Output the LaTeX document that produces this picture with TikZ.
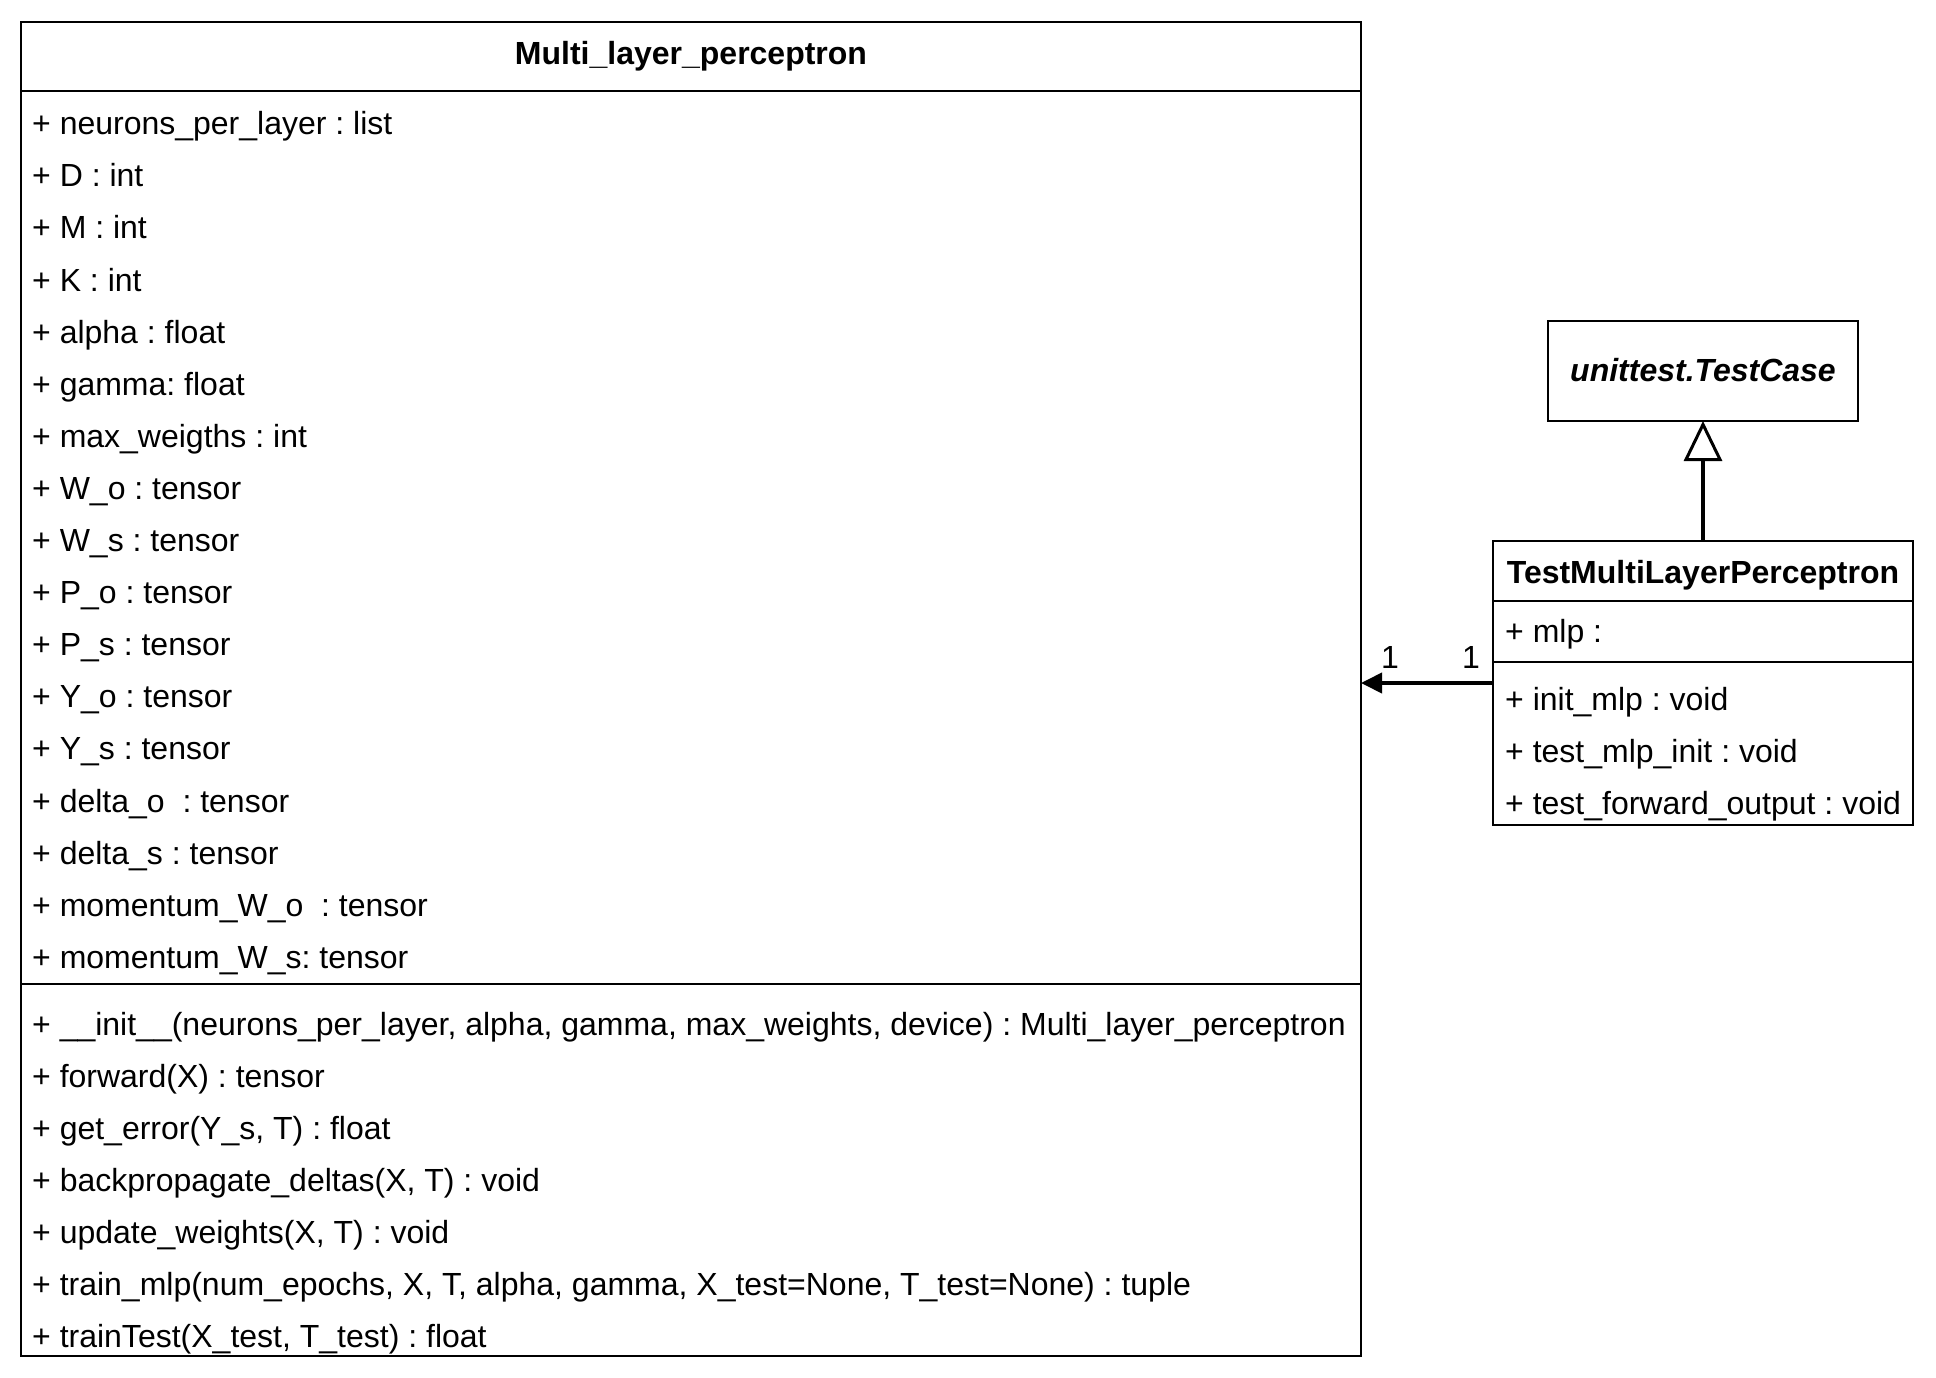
\documentclass[tikz,border=0pt]{standalone}
\usepackage{fontspec}
\setmainfont{Liberation Sans}
\usetikzlibrary{arrows.meta}
\frenchspacing

\begin{document}
\begin{tikzpicture}[x=1pt, y=-1pt,
    font=\fontsize{32}{38}\selectfont,
    classbox/.style={draw, line width=2pt, inner sep=0pt, outer sep=0pt, anchor=north west},
    member/.style={anchor=base west, inner sep=0pt},
    classname/.style={anchor=base, inner sep=0pt, font=\fontsize{32}{38}\selectfont\bfseries},
    mult/.style={anchor=base, inner sep=0pt, yshift=15pt},
    assoc/.style={line width=4pt, -{Triangle[length=21pt, width=20pt]}},
    inherit/.style={line width=4pt, -{Triangle[open, length=40pt, width=38pt, line width=3pt, fill=white]}}]
      \useasboundingbox[fill=white] (0,0) rectangle (1936,1378);

      % Multi_layer_perceptron
      \node[classbox, minimum width=1340pt, minimum height=1333.5pt] (mlp) at (21,22) {};
      \node[classname] (mlpname) at (691,65) {Multi\_layer\_perceptron};
      \draw[line width=2pt] (mlp.west |- 0,91.5) -- (mlp.east |- 0,91.5);
      \draw[line width=2pt] (mlp.west |- 0,984) -- (mlp.east |- 0,984);
      \foreach \txt [count=\i] in {
          {+ neurons\_per\_layer : list},
          {+ D : int},
          {+ M : int},
          {+ K : int},
          {+ alpha : float},
          {+ gamma: float},
          {+ max\_weigths : int},
          {+ W\_o : tensor},
          {+ W\_s : tensor},
          {+ P\_o : tensor},
          {+ P\_s : tensor},
          {+ Y\_o : tensor},
          {+ Y\_s : tensor},
          {+ delta\_o\ \ : tensor},
          {+ delta\_s : tensor},
          {+ momentum\_W\_o\ \ : tensor},
          {+ momentum\_W\_s: tensor}}
        \node[member] (attr\i) at (32,{134.7+52.1*(\i-1)}) {\txt};
      \foreach \txt [count=\i] in {
          {+ \_\_init\_\_(neurons\_per\_layer, alpha, gamma, max\_weights, device) : Multi\_layer\_perceptron},
          {+ forward(X) : tensor},
          {+ get\_error(Y\_s, T) : float},
          {+ backpropagate\_deltas(X, T) : void},
          {+ update\_weights(X, T) : void},
          {+ train\_mlp(num\_epochs, X, T, alpha, gamma, X\_test=None, T\_test=None) : tuple},
          {+ trainTest(X\_test, T\_test) : float}}
        \node[member] (meth\i) at (32,{1035+52.1*(\i-1)}) {\txt};

      % unittest.TestCase
      \node[classbox, minimum width=310pt, minimum height=100pt] (testcase) at (1548,321) {};
      \node[classname, font=\fontsize{32}{38}\selectfont\bfseries\itshape] (testcasename) at (1703,381) {unittest.TestCase};

      % TestMultiLayerPerceptron
      \node[classbox, minimum width=420pt, minimum height=284pt] (testmlp) at (1493,541) {};
      \node[classname] (testmlpname) at (1703,583) {TestMultiLayerPerceptron};
      \draw[line width=2pt] (testmlp.west |- 0,601) -- (testmlp.east |- 0,601);
      \draw[line width=2pt] (testmlp.west |- 0,662) -- (testmlp.east |- 0,662);
      \node[member] (mlpattr) at (1505,642.7) {+ mlp :};
      \foreach \txt [count=\i] in {
          {+ init\_mlp : void},
          {+ test\_mlp\_init : void},
          {+ test\_forward\_output : void}}
        \node[member] (test\i) at (1505,{710.7+52*(\i-1)}) {\txt};

      \draw[inherit] (testmlp.north) -- (testcase.south);
      \draw[assoc] (testmlp.west) -- (mlp.east |- testmlp.west)
        node[mult, pos=0.167] (multtest) {1}
        node[mult, pos=0.78] (multmlp) {1};
    \end{tikzpicture}
\end{document}
